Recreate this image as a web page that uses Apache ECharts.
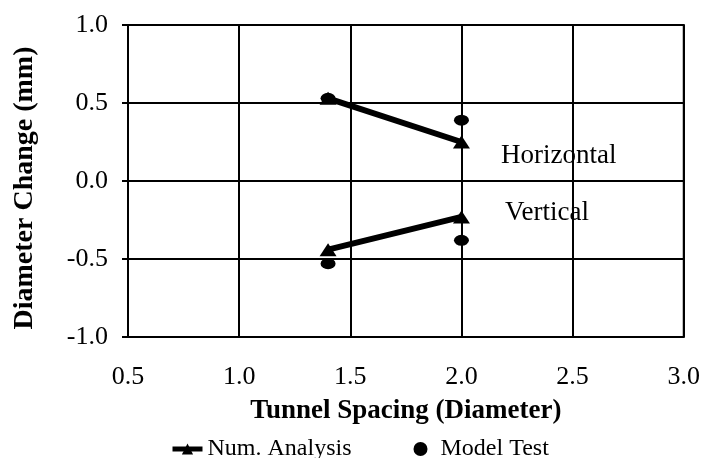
<!DOCTYPE html>
<html>
<head>
<meta charset="utf-8">
<script src="https://cdn.jsdelivr.net/npm/echarts@6/dist/echarts.min.js"></script>
<style>html,body{margin:0;padding:0;background:#fff}#c{width:703px;height:458px}</style>
</head>
<body>
<div id="c"></div>
<script>
// Data
var spacing = [1.4, 2.0];
var numHorizontal = [0.53, 0.25];
var numVertical = [-0.44, -0.23];
var testHorizontal = [0.53, 0.39];
var testVertical = [-0.53, -0.38];
var xTicks = [0.5, 1.0, 1.5, 2.0, 2.5, 3.0];
var yTicks = [-1.0, -0.5, 0.0, 0.5, 1.0];
var labels = ['Horizontal', 'Vertical'];

function pairs(xs, ys) { return xs.map(function (x, i) { return [x, ys[i]]; }); }

var FONT = '"Liberation Serif", "Times New Roman", serif';
var chart = echarts.init(document.getElementById('c'));
var modelTest = pairs(spacing, testHorizontal).concat(pairs(spacing, testVertical));

chart.setOption({
  animation: false,
  backgroundColor: '#fff',
  textStyle: { fontFamily: FONT, color: '#000' },
  grid: { left: 128, right: 13, top: 25, bottom: 121, show: true, borderColor: '#000', borderWidth: 2 },
  xAxis: {
    type: 'value', min: xTicks[0], max: xTicks[xTicks.length - 1], interval: 0.5,
    name: 'Tunnel Spacing (Diameter)', nameLocation: 'middle', nameGap: 61,
    nameTextStyle: { fontFamily: FONT, fontSize: 27, fontWeight: 'bold', color: '#000' },
    axisLine: { lineStyle: { color: '#000', width: 2 } },
    axisTick: { show: true, length: 6, lineStyle: { color: '#000', width: 2 } },
    axisLabel: { fontFamily: FONT, fontSize: 26, color: '#000', margin: 27, formatter: function (v) { return v.toFixed(1); } },
    splitLine: { show: true, lineStyle: { color: '#000', width: 2 } }
  },
  yAxis: {
    type: 'value', min: yTicks[0], max: yTicks[yTicks.length - 1], interval: 0.5,
    name: 'Diameter Change (mm)', nameLocation: 'middle', nameGap: 89,
    nameTextStyle: { fontFamily: FONT, fontSize: 28, fontWeight: 'bold', color: '#000', padding: [0, 14, 0, 0] },
    axisLine: { show: true, lineStyle: { color: '#000', width: 2 } },
    axisTick: { show: true, length: 6, lineStyle: { color: '#000', width: 2 } },
    axisLabel: { fontFamily: FONT, fontSize: 26, color: '#000', margin: 20, formatter: function (v) { return v.toFixed(1); } },
    splitLine: { show: true, lineStyle: { color: '#000', width: 2 } }
  },
  legend: {
    left: 165, top: 432, itemGap: 62, itemWidth: 30, itemHeight: 14,
    textStyle: { fontFamily: FONT, fontSize: 24, color: '#000' },
    data: [
      { name: 'Num. Analysis', lineStyle: { width: 5, color: '#000' }, itemStyle: { color: '#000' } },
      { name: 'Model Test', itemStyle: { color: '#000', opacity: 1 } }
    ]
  },
  graphic: [
    { type: 'text', left: 501, top: 142, style: { text: labels[0], font: '27px ' + FONT, fill: '#000' } },
    { type: 'text', left: 505, top: 199, style: { text: labels[1], font: '27px ' + FONT, fill: '#000' } }
  ],
  series: [
    {
      name: 'Num. Analysis', type: 'line', data: pairs(spacing, numHorizontal),
      symbol: 'triangle', symbolSize: [17, 13],
      lineStyle: { color: '#000', width: 6 }, itemStyle: { color: '#000' }
    },
    {
      name: 'Num. Analysis', type: 'line', data: pairs(spacing, numVertical),
      symbol: 'triangle', symbolSize: [17, 13],
      lineStyle: { color: '#000', width: 6 }, itemStyle: { color: '#000' }
    },
    {
      name: 'Model Test', type: 'scatter', data: modelTest, z: 1,
      symbol: 'circle', symbolSize: [15, 11], itemStyle: { color: '#000', opacity: 1 }
    }
  ]
});
</script>
</body>
</html>
